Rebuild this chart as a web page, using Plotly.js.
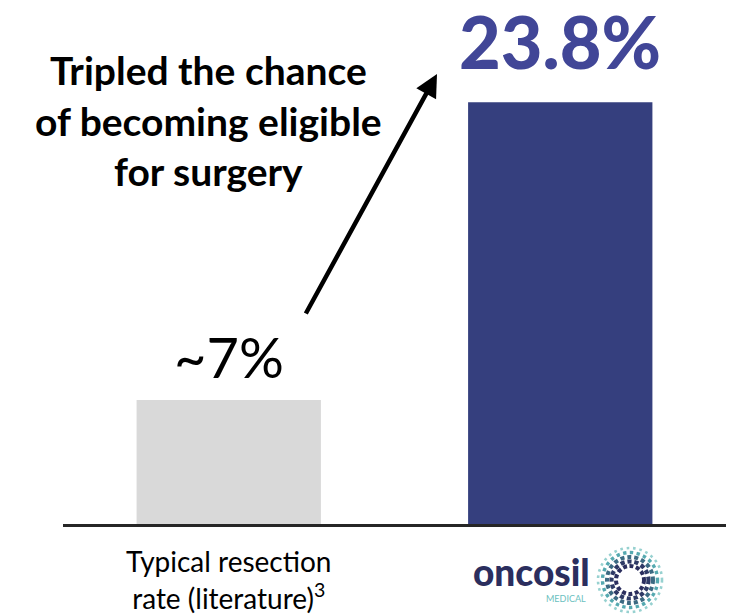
<!DOCTYPE html>
<html>
<head>
<meta charset="utf-8">
<script src="https://cdn.plot.ly/plotly-3.0.1.min.js"></script>
<style>
  html, body { margin: 0; padding: 0; background: #ffffff; }
  #chart { width: 739px; height: 615px; }
</style>
</head>
<body>
<div id="chart"></div>
<script>
// Resection rates: literature baseline vs. OncoSil
const categories = ['literature', 'oncosil'];
const tickLabels = ['Typical resection<br>rate (literature)<sup>3</sup>'];
const rates = [7, 23.8];
const rateLabels = ['~' + rates[0] + '%', rates[1] + '%'];
const barColors = ['#D9D9D9', '#353F7E'];

const W = 739, H = 615;
const M = { l: 63, r: 13, t: 0, b: 91 };
const plotW = W - M.l - M.r, plotH = H - M.t - M.b;
// pixel -> paper helpers for the decorative pieces
const px = x => (x - M.l) / plotW;
const py = y => (H - M.b - y) / plotH;

const FONT = 'Lato, "Open Sans", sans-serif';

const trace = {
  type: 'bar',
  x: categories,
  y: rates,
  width: 0.556,
  marker: { color: barColors, line: { width: 0 } },
  hoverinfo: 'skip'
};

const annotations = [
  // value labels above each bar
  {
    xref: 'x', yref: 'y', x: categories[0], y: rates[0],
    text: rateLabels[0], showarrow: false, yanchor: 'bottom', yshift: 8,
    font: { family: FONT, size: 56, color: '#000000' }
  },
  {
    xref: 'x', yref: 'y', x: categories[1], y: rates[1],
    text: rateLabels[1], showarrow: false, yanchor: 'bottom', yshift: 16,
    font: { family: FONT, size: 72, weight: 900, color: '#414697' }
  },
  // call-out text
  {
    xref: 'paper', yref: 'paper', x: px(208), y: py(45),
    text: '<b>Tripled the chance<br>of becoming eligible<br>for surgery</b>',
    showarrow: false, xanchor: 'center', yanchor: 'top', align: 'center',
    font: { family: FONT, size: 39, color: '#000000' }
  },
  // rising arrow
  {
    xref: 'paper', yref: 'paper', x: px(437), y: py(74),
    ax: -132, ay: 241, text: '', showarrow: true,
    arrowhead: 2, arrowsize: 1, arrowwidth: 4.5, arrowcolor: '#000000',
    standoff: 0, startstandoff: 0
  },
  // logo word mark
  {
    xref: 'paper', yref: 'paper', x: px(471), y: py(596),
    text: 'oncosil', showarrow: false, xanchor: 'left', yanchor: 'bottom',
    font: { family: FONT, size: 37, weight: 900, color: '#2B2E5E' }
  },
  {
    xref: 'paper', yref: 'paper', x: px(588), y: py(606),
    text: 'MEDICAL', showarrow: false, xanchor: 'right', yanchor: 'bottom',
    font: { family: FONT, size: 9, color: '#6BBFC0' }
  }
];

// dotted ring of the logo: concentric dotted circles, dark inside, teal outside
const ringCenter = { x: 630, y: 580 };
const rings = [
  { r: 14, w: 4, color: '#2B2E5E', dash: '4px,2.5px' },
  { r: 18.5, w: 4.2, color: '#2F3A66', dash: '4.2px,2.8px' },
  { r: 23, w: 4, color: '#3C6A82', dash: '4px,3px' },
  { r: 27.5, w: 3.4, color: '#55A9B0', dash: '3.4px,3.4px' },
  { r: 32, w: 2.6, color: '#97D1D0', dash: '2.6px,3.8px' }
];
const shapes = rings.map(g => ({
  type: 'circle', xref: 'paper', yref: 'paper',
  xsizemode: 'pixel', ysizemode: 'pixel',
  xanchor: px(ringCenter.x), yanchor: py(ringCenter.y),
  x0: -g.r, x1: g.r, y0: -g.r, y1: g.r,
  line: { color: g.color, width: g.w, dash: g.dash },
  fillcolor: 'rgba(0,0,0,0)'
}));

const layout = {
  width: W, height: H,
  margin: M,
  paper_bgcolor: '#ffffff', plot_bgcolor: '#ffffff',
  showlegend: false,
  font: { family: FONT, color: '#000000' },
  xaxis: {
    type: 'category',
    range: [-0.5, 1.5],
    tickvals: [categories[0]],
    ticktext: tickLabels,
    ticks: '',
    showgrid: false, zeroline: false,
    showline: true, linecolor: '#262626', linewidth: 2.5,
    ticklabelstandoff: 12,
    tickfont: { family: FONT, size: 28, color: '#000000' },
    fixedrange: true
  },
  yaxis: {
    range: [0, (H - M.b) / 17.72],
    visible: false, showgrid: false, zeroline: false, fixedrange: true
  },
  annotations: annotations,
  shapes: shapes
};

Plotly.newPlot('chart', [trace], layout, { displayModeBar: false, staticPlot: true });
</script>
</body>
</html>
